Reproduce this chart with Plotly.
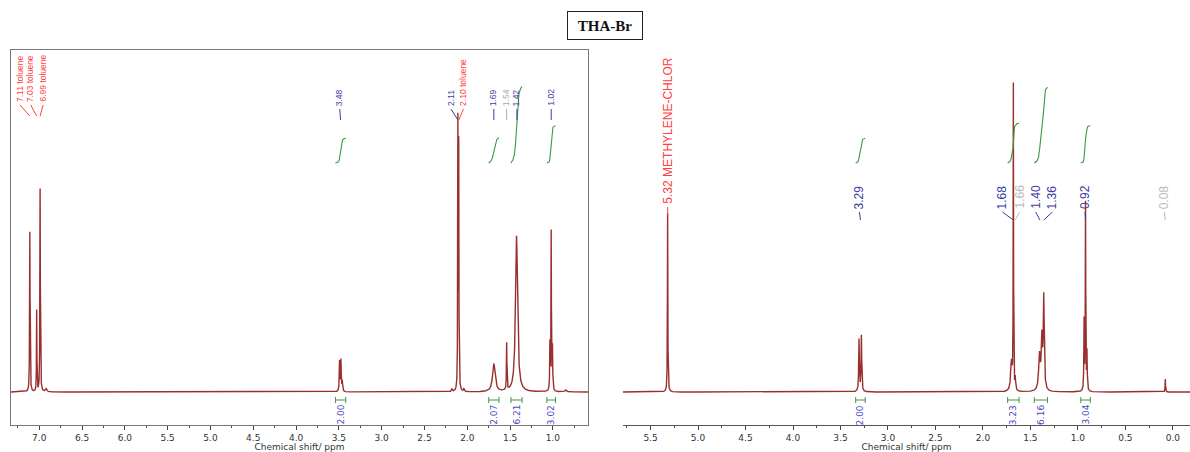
import numpy as np
import plotly.graph_objects as go

# ---------------- spectrum peak lists ----------------
# left spectrum (toluene-d8)
left_shift = [7.11, 7.03, 6.99, 6.92, 3.492, 3.476, 3.46, 2.18, 2.11, 2.10, 2.04,
              1.69, 1.54, 1.425, 1.035, 1.02, 1.005, 0.85]
left_height = [160, 81, 203, 3, 30, 31, 10, 3, 265, 240, 3,
               28, 47, 156, 46, 159, 42, 2]
left_width = [0.006, 0.005, 0.006, 0.02, 0.008, 0.008, 0.008, 0.01, 0.005, 0.005, 0.01,
              0.035, 0.006, 0.028, 0.006, 0.006, 0.006, 0.02]

# right spectrum (CD2Cl2)
right_shift = [5.32, 3.305, 3.28, 1.70, 1.68, 1.66, 1.405, 1.38, 1.36,
               0.935, 0.92, 0.905, 0.08]
right_height = [179, 52, 56, 30, 303, 12, 35, 50, 92,
                70, 187, 38, 13]
right_width = [0.005, 0.008, 0.008, 0.02, 0.004, 0.008, 0.02, 0.015, 0.012,
               0.006, 0.005, 0.006, 0.005]

# peak labels
left_labels = ["7.11 toluene", "7.03 toluene", "6.99 toluene", "3.48", "2.11",
               "2.10 toluene", "1.69", "1.54", "1.42", "1.02"]
left_label_peak = [7.11, 7.03, 6.99, 3.48, 2.11, 2.10, 1.69, 1.54, 1.42, 1.02]
right_labels = ["5.32 METHYLENE-CHLOR", "3.29", "1.68", "1.66", "1.40", "1.36",
                "0.92", "0.08"]
right_label_peak = [5.32, 3.29, 1.68, 1.66, 1.40, 1.36, 0.92, 0.08]

# integrals: region start/end (ppm) and integrated value
left_int_from = [3.54, 1.75, 1.49, 1.07]
left_int_to = [3.42, 1.63, 1.36, 0.97]
left_int_value = [2.00, 2.07, 6.21, 3.02]
right_int_from = [3.34, 1.74, 1.46, 0.97]
right_int_to = [3.24, 1.62, 1.32, 0.87]
right_int_value = [2.00, 3.23, 6.16, 3.04]

# ---------------- layout constants ----------------
W, H = 1190, 452
LEFT_RANGE = [7.33, 0.59]
RIGHT_RANGE = [5.79, -0.18]
Y_RANGE = [-33, 342]
DOMAIN_Y = [(H - 425) / H, (H - 50) / H]

# label styling / placement (label x in ppm)
left_label_x = [7.225, 7.10, 6.955, 3.49, 2.19, 2.045, 1.69, 1.54, 1.42, 1.02]
left_label_color = ["#ff4040"] * 3 + ["#3c3ca0", "#3c3ca0", "#ff4040",
                                      "#3c3ca0", "#aaaaaa", "#3c3ca0", "#3c3ca0"]
right_label_x = [5.32, 3.30, 1.795, 1.615, 1.445, 1.268, 0.925, 0.09]
right_label_color = ["#ff4040", "#3c3ca0", "#3c3ca0", "#bbbbbb", "#3c3ca0",
                     "#3c3ca0", "#3c3ca0", "#bbbbbb"]

LINE_COLOR = "rgba(135,10,10,0.85)"
INT_COLOR = "#3c9a3c"
INT_TEXT = "#4a4ac0"
INT_BASE = 229
INT_SCALE = 12.3


def spectrum(grid, shifts, heights, widths):
    y = np.zeros_like(grid)
    for s, h, w in zip(shifts, heights, widths):
        y += h / (1.0 + ((grid - s) / (w / 2.0)) ** 2)
    return y


def make_grid(rng, shifts):
    g = np.linspace(rng[0], rng[1], 14000)
    g = np.unique(np.concatenate([g, np.asarray(shifts, float)]))[::-1]
    return g


fig = go.Figure()

panels = [
    dict(xa="x", ya="y", rng=LEFT_RANGE, shifts=left_shift, heights=left_height,
         widths=left_width, labels=left_labels, lpeak=left_label_peak,
         lx=left_label_x, lcol=left_label_color, ifrom=left_int_from,
         ito=left_int_to, ival=left_int_value),
    dict(xa="x2", ya="y2", rng=RIGHT_RANGE, shifts=right_shift, heights=right_height,
         widths=right_width, labels=right_labels, lpeak=right_label_peak,
         lx=right_label_x, lcol=right_label_color, ifrom=right_int_from,
         ito=right_int_to, ival=right_int_value),
]

shapes = []
annotations = []

for k, p in enumerate(panels):
    grid = make_grid(p["rng"], p["shifts"])
    sp = spectrum(grid, p["shifts"], p["heights"], p["widths"])
    fig.add_trace(go.Scatter(x=grid, y=sp, mode="lines", xaxis=p["xa"], yaxis=p["ya"],
                             line=dict(color=LINE_COLOR, width=1.4),
                             hoverinfo="skip", showlegend=False))

    # integral curves + brackets + values
    for a, b, v in zip(p["ifrom"], p["ito"], p["ival"]):
        m = (grid <= a) & (grid >= b)
        gx = grid[m]
        cum = np.cumsum(sp[m])
        cum = (cum - cum[0]) / (cum[-1] - cum[0])
        fig.add_trace(go.Scatter(x=gx, y=INT_BASE + cum * v * INT_SCALE, mode="lines",
                                 xaxis=p["xa"], yaxis=p["ya"],
                                 line=dict(color=INT_COLOR, width=1.1),
                                 hoverinfo="skip", showlegend=False))
        shapes.append(dict(type="line", xref=p["xa"], yref=p["ya"], x0=a, x1=b,
                           y0=-8, y1=-8, line=dict(color=INT_COLOR, width=1)))
        for e in (a, b):
            shapes.append(dict(type="line", xref=p["xa"], yref=p["ya"], x0=e, x1=e,
                               y0=-5, y1=-11, line=dict(color=INT_COLOR, width=1)))
        annotations.append(dict(x=(a + b) / 2, y=-11, xref=p["xa"], yref=p["ya"],
                                text=f"{v:.2f}", textangle=-90, showarrow=False,
                                xanchor="center", yanchor="top",
                                font=dict(family="DejaVu Sans", size=9, color=INT_TEXT)))

    # peak labels with short connectors
    if k == 0:
        size, fam = 8.5, "Liberation Sans"
    else:
        size, fam = 12, "Liberation Sans"
    for txt, pk, lx, col in zip(p["labels"], p["lpeak"], p["lx"], p["lcol"]):
        if k == 0:
            tol = "toluene" in txt and pk > 3
            bottom = 288 if tol else 284
            c0, c1 = bottom - 1, bottom - 12
        else:
            bottom = 186 if "METHYLENE" in txt else 181
            c0, c1 = bottom - 1, bottom - 9
        annotations.append(dict(x=lx, y=bottom, xref=p["xa"], yref=p["ya"], text=txt,
                                textangle=-90, showarrow=False, xanchor="center",
                                yanchor="bottom", font=dict(family=fam, size=size, color=col)))
        shapes.append(dict(type="line", xref=p["xa"], yref=p["ya"], x0=lx, x1=pk,
                           y0=c0, y1=c1, line=dict(color=col, width=1)))

# title box
annotations.append(dict(x=605 / W, y=1 - 26 / H, xref="paper", yref="paper",
                        text="<b>THA-Br</b>", showarrow=False, xanchor="center",
                        yanchor="middle", width=64, height=17, borderpad=5,
                        bordercolor="#222", borderwidth=1, bgcolor="white",
                        font=dict(family="Liberation Serif", size=15, color="#111")))

tickfont = dict(family="DejaVu Sans", size=9, color="#333")
titlefont = dict(family="DejaVu Sans", size=9, color="#333")
common_x = dict(showgrid=False, zeroline=False, ticks="outside", ticklen=4,
                tickcolor="#444", tickfont=tickfont, dtick=0.5, tickformat=".1f",
                minor=dict(ticks="outside", ticklen=2, dtick=0.25, tickcolor="#444"),
                title=dict(text="Chemical shift/ ppm", font=titlefont, standoff=2))

fig.update_layout(
    width=W, height=H,
    margin=dict(l=0, r=0, t=0, b=0),
    paper_bgcolor="white", plot_bgcolor="white",
    showlegend=False,
    xaxis=dict(domain=[11 / W, 588 / W], range=LEFT_RANGE, anchor="y",
               showline=True, mirror=True, linecolor="#777", linewidth=1.3,
               tick0=0, **common_x),
    yaxis=dict(domain=DOMAIN_Y, range=Y_RANGE, anchor="x", visible=True,
               showticklabels=False, ticks="", showgrid=False, zeroline=False,
               showline=True, mirror=True, linecolor="#777", linewidth=1.3),
    xaxis2=dict(domain=[623 / W, 1.0], range=RIGHT_RANGE, anchor="y2",
                showline=True, linecolor="#555", linewidth=1, tick0=0, **common_x),
    yaxis2=dict(domain=DOMAIN_Y, range=Y_RANGE, anchor="x2", visible=False),
    shapes=shapes,
    annotations=annotations,
)

fig.write_html("out.html")
